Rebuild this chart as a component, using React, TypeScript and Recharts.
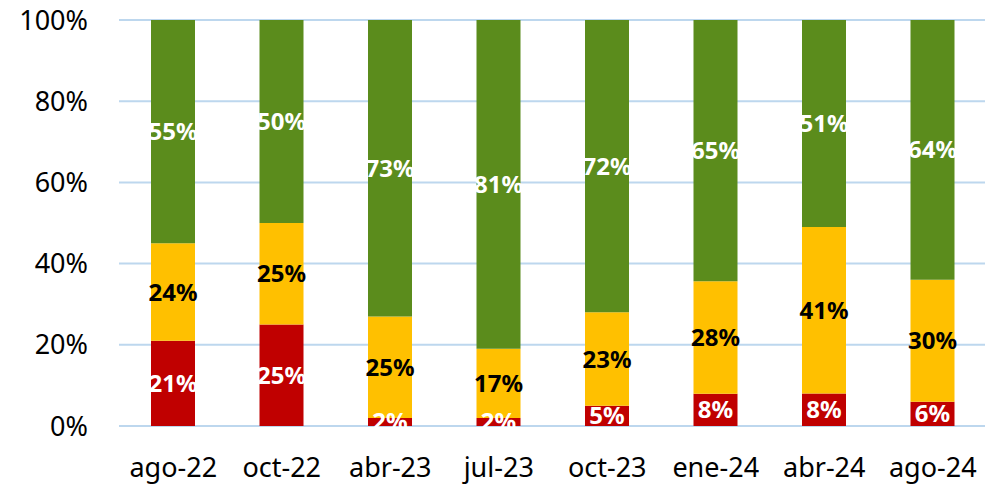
import { BarChart, Bar, XAxis, YAxis, CartesianGrid, LabelList } from 'recharts';

const categories = ['ago-22', 'oct-22', 'abr-23', 'jul-23', 'oct-23', 'ene-24', 'abr-24', 'ago-24'];
const redValues = [21, 25, 2, 2, 5, 8, 8, 6];
const yellowValues = [24, 25, 25, 17, 23, 28, 41, 30];
const greenValues = [55, 50, 73, 81, 72, 65, 51, 64];
const yTicks = [0, 0.2, 0.4, 0.6, 0.8, 1];

const data = categories.map((name, i) => ({
  name,
  red: redValues[i],
  yellow: yellowValues[i],
  green: greenValues[i],
}));

const font = '"Noto Sans", "Open Sans", sans-serif';
const labelStyle = { fontFamily: font, fontSize: 24, fontWeight: 700 };
const pct = (v: any) => `${v}%`;

export default function App() {
  return (
    <div style={{ position: 'absolute', left: 0, top: 0, width: 985, height: 484, background: '#fff' }}>
      <BarChart
        width={985}
        height={484}
        data={data}
        stackOffset="expand"
        barSize={44}
        margin={{ top: 20, right: -2, bottom: 0, left: 0 }}
      >
        <CartesianGrid horizontal vertical={false} stroke="#BDD7EE" strokeWidth={2} />
        <XAxis
          dataKey="name"
          axisLine={false}
          tickLine={false}
          tickSize={0}
          tickMargin={32}
          height={58}
          interval={0}
          tick={{ fill: '#000', fontSize: 27, fontFamily: font }}
        />
        <YAxis
          domain={[0, 1]}
          ticks={yTicks}
          axisLine={false}
          tickLine={false}
          tickSize={0}
          tickMargin={31}
          width={119}
          tickFormatter={(v: number) => `${Math.round(v * 100)}%`}
          tick={{ fill: '#000', fontSize: 27, fontFamily: font }}
        />
        <Bar dataKey="red" stackId="a" fill="#C00000" isAnimationActive={false}>
          <LabelList dataKey="red" position="center" formatter={pct} fill="#fff" style={labelStyle} />
        </Bar>
        <Bar dataKey="yellow" stackId="a" fill="#FFC000" isAnimationActive={false}>
          <LabelList dataKey="yellow" position="center" formatter={pct} fill="#000" style={labelStyle} />
        </Bar>
        <Bar dataKey="green" stackId="a" fill="#5B8C1C" isAnimationActive={false}>
          <LabelList dataKey="green" position="center" formatter={pct} fill="#fff" style={labelStyle} />
        </Bar>
      </BarChart>
    </div>
  );
}
